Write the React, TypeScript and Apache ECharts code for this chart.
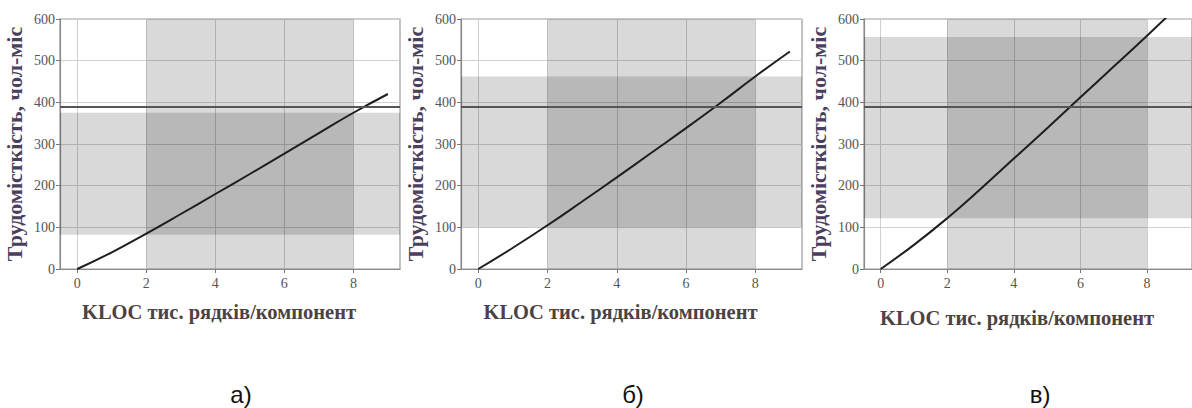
import React, { useEffect, useRef } from "react";
import * as echarts from "echarts";

// ---- data ----
const kloc = [0, 1, 2, 3, 4, 5, 6, 7, 8, 9];
const effortA = [0, 40, 85, 132, 180, 228, 277, 326, 375, 420];
const effortB = [0, 51, 105, 162, 220, 279, 338, 399, 462, 522];
const effortC = [0, 58, 122, 192, 265, 338, 412, 486, 560, 636];
const bandA = [82, 375];
const bandB = [100, 462];
const bandC = [122, 557];
const klocBand = [2, 8];
const refEffort = 390;
const xTicks = [0, 2, 4, 6, 8];
const panelLabels = ["а)", "б)", "в)"];
const yName = "Трудомісткість, чол-міс";
const xName = "KLOC тис. рядків/компонент";

const effortSets = [effortA, effortB, effortC];
const bands = [bandA, bandB, bandC];

const SERIF = "'Liberation Serif', 'Times New Roman', serif";

export default function App() {
  const ref = useRef<HTMLDivElement>(null);

  useEffect(() => {
    if (!ref.current) return;
    const chart = echarts.init(ref.current, undefined, { renderer: "svg" });

    const grids = [
      { left: 60, top: 19, width: 340, height: 250 },
      { left: 461, top: 19, width: 341, height: 250 },
      { left: 864, top: 19, width: 341, height: 250 },
    ];
    const xNameGaps = [32, 32, 38];

    const option: any = {
      animation: false,
      backgroundColor: "#ffffff",
      grid: grids.map((g) => ({
        ...g,
        show: true,
        borderColor: "#9a9a9a",
        borderWidth: 1.2,
        backgroundColor: "transparent",
      })),
      xAxis: grids.map((_, i) => ({
        type: "value",
        gridIndex: i,
        min: -0.5,
        max: 9.35,
        name: xName,
        nameLocation: "middle",
        nameGap: xNameGaps[i],
        nameTextStyle: {
          fontFamily: SERIF,
          fontWeight: "bold",
          fontSize: 20.5,
          color: "#4d4242",
          padding: [0, 22, 0, 0],
        },
        axisLine: { show: true, onZero: false, lineStyle: { color: "#8a8a8a", width: 1.2 } },
        axisTick: {
          show: true,
          customValues: xTicks,
          length: 4,
          lineStyle: { color: "#777" },
        },
        axisLabel: {
          customValues: xTicks,
          fontFamily: SERIF,
          fontSize: 14,
          color: "#555",
          margin: 7,
        },
        splitLine: { show: true, lineStyle: { color: "#cfcfcf", width: 1 } },
      })),
      yAxis: grids.map((_, i) => ({
        type: "value",
        gridIndex: i,
        min: 0,
        max: 600,
        interval: 100,
        name: yName,
        nameLocation: "middle",
        nameGap: 35,
        nameRotate: 90,
        nameTextStyle: {
          fontFamily: SERIF,
          fontWeight: "bold",
          fontSize: 22,
          color: "#4a3f5e",
        },
        axisLine: { show: true, onZero: false, lineStyle: { color: "#8a8a8a", width: 1.2 } },
        axisTick: { show: true, length: 4, lineStyle: { color: "#777" } },
        axisLabel: {
          fontFamily: SERIF,
          fontSize: 14,
          color: "#555",
          margin: 5,
        },
        splitLine: { show: true, lineStyle: { color: "#cfcfcf", width: 1 } },
      })),
      series: effortSets.map((ys, i) => ({
        type: "line",
        xAxisIndex: i,
        yAxisIndex: i,
        data: kloc.map((x, k) => [x, ys[k]]),
        smooth: true,
        showSymbol: false,
        clip: true,
        lineStyle: { color: "#1e1e1e", width: 2 },
        markArea: {
          silent: true,
          itemStyle: { color: "rgba(0,0,0,0.15)" },
          data: [
            [{ xAxis: klocBand[0] }, { xAxis: klocBand[1] }],
            [{ yAxis: bands[i][0] }, { yAxis: bands[i][1] }],
          ],
        },
        markLine: {
          silent: true,
          symbol: "none",
          label: { show: false },
          lineStyle: { color: "#555", width: 2, type: "solid" },
          data: [{ yAxis: refEffort }],
        },
      })),
      graphic: [241, 633, 1040].map((cx, i) => ({
        type: "text",
        x: cx,
        y: 394,
        style: {
          text: panelLabels[i],
          fontFamily: "'Liberation Sans', Arial, sans-serif",
          fontSize: 24,
          fill: "#111",
          textAlign: "center",
          textVerticalAlign: "middle",
        },
      })),
    };

    chart.setOption(option);
    return () => chart.dispose();
  }, []);

  return (
    <div
      ref={ref}
      style={{ position: "fixed", left: 0, top: 0, width: 1192, height: 408 }}
    />
  );
}
